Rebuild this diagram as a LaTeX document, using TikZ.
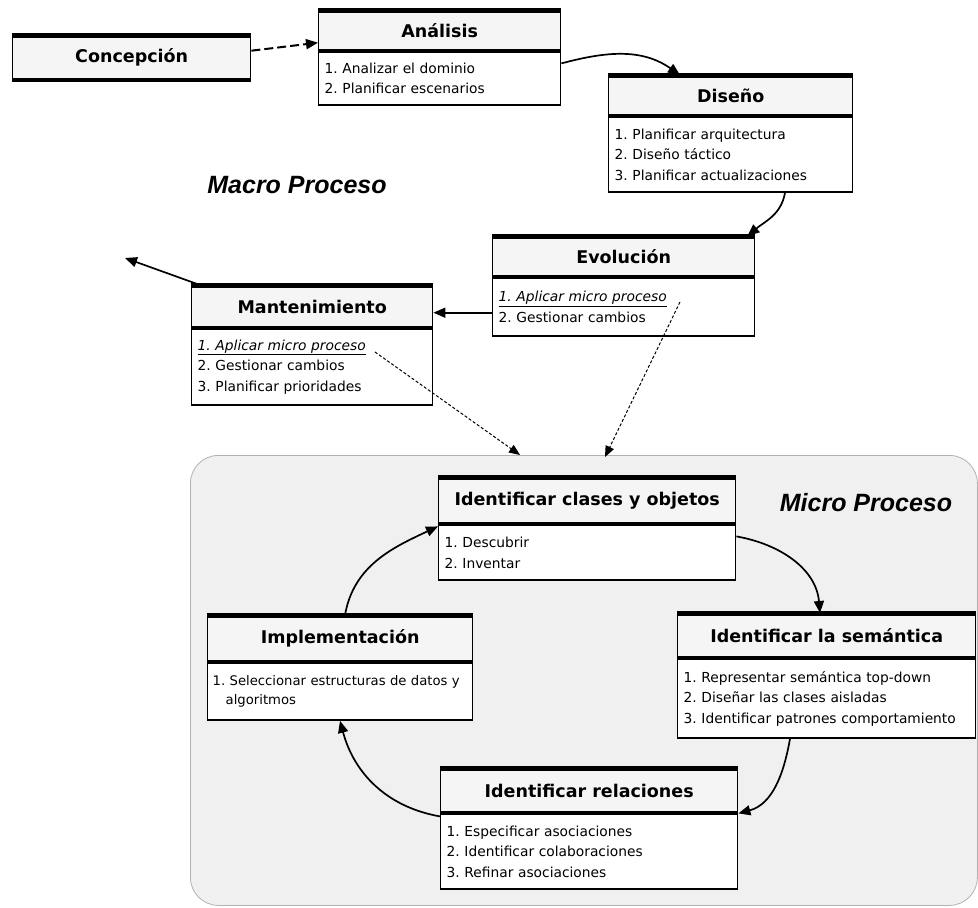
\documentclass[tikz,border=0pt]{standalone}
\usepackage{fontspec}
\setmainfont{Liberation Sans}
\newfontfamily\boxtitlefont{DejaVu Sans}
\newfontfamily\boxbodyfont{DejaVu Sans}
\usetikzlibrary{arrows.meta}
\frenchspacing

\begin{document}
\begin{tikzpicture}[x=1pt,y=1pt,
  ttl/.style={draw, line width=1.4pt, fill=black!4, anchor=north west, inner sep=0pt,
    font=\boxtitlefont\bfseries\fontsize{17.5}{20}\selectfont},
  bdy/.style={draw, line width=1.4pt, fill=white, anchor=north west, inner xsep=6pt,
    inner ysep=0pt, align=left, font=\boxbodyfont\fontsize{13.8}{20.5}\selectfont},
  topbar/.style={line width=5pt},
  midbar/.style={line width=4pt},
  arr/.style={line width=1.7pt, -{Triangle[length=12pt,width=10pt]}},
  dsh/.style={line width=1pt, dash pattern=on 3pt off 2pt, -{Triangle[length=11pt,width=9pt]}},
  lbl/.style={font=\bfseries\itshape\fontsize{25}{28}\selectfont},
  micro/.style={draw=black!30, line width=0.8pt, fill=black!6, rounded corners=28pt,
    anchor=north west, inner sep=0pt}
]
\useasboundingbox (0,0) rectangle (978,-908);
\fill[white] (0,0) rectangle (978,-908);

% micro process frame
\node[micro, minimum width=787pt, minimum height=450pt] (mframe) at (190,-455) {};

% macro process boxes
\node[ttl, minimum width=238pt, minimum height=44pt] (con) at (12,-35) {Concepción};

\node[ttl, minimum width=242pt, minimum height=40pt] (ana) at (318,-10) {Análisis};
\node[bdy, text width=230pt, minimum height=53pt] (ana-b) at (ana.south west)
  {1. Analizar el dominio\\2. Planificar escenarios};

\node[ttl, minimum width=244pt, minimum height=40pt] (dis) at (608,-75) {Diseño};
\node[bdy, text width=232pt, minimum height=75pt] (dis-b) at (dis.south west)
  {1. Planificar arquitectura\\2. Diseño táctico\\3. Planificar actualizaciones};

\node[ttl, minimum width=262pt, minimum height=40pt] (evo) at (492,-236) {Evolución};
\node[bdy, text width=250pt, minimum height=58pt] (evo-b) at (evo.south west)
  {\underline{\itshape 1. Aplicar micro proceso}\\2. Gestionar cambios};

\node[ttl, minimum width=241pt, minimum height=42pt] (man) at (191,-285) {Mantenimiento};
\node[bdy, text width=229pt, minimum height=76pt] (man-b) at (man.south west)
  {\underline{\itshape 1. Aplicar micro proceso}\\2. Gestionar cambios\\3. Planificar prioridades};

% micro process boxes
\node[ttl, minimum width=297pt, minimum height=46pt] (cla) at (438,-477) {Identificar clases y objetos};
\node[bdy, text width=285pt, minimum height=55pt] (cla-b) at (cla.south west)
  {1. Descubrir\\2. Inventar};

\node[ttl, minimum width=298pt, minimum height=44pt] (sem) at (677,-613) {Identificar la semántica};
\node[bdy, text width=286pt, minimum height=79pt] (sem-b) at (sem.south west)
  {1. Representar semántica top-down\\2. Diseñar las clases aisladas\\3. Identificar patrones comportamiento};

\node[ttl, minimum width=265pt, minimum height=46pt] (imp) at (207,-615) {Implementación};
\node[bdy, inner xsep=5pt, text width=255pt, minimum height=57pt,
  font=\boxbodyfont\fontsize{13.2}{19}\selectfont] (imp-b) at (imp.south west)
  {1. Seleccionar estructuras de datos y\\\hspace*{13pt}algoritmos};

\node[ttl, minimum width=297pt, minimum height=44pt] (rel) at (440,-768) {Identificar relaciones};
\node[bdy, text width=285pt, minimum height=75pt] (rel-b) at (rel.south west)
  {1. Especificar asociaciones\\2. Identificar colaboraciones\\3. Refinar asociaciones};

% heavy rules on the title compartments
\foreach \b in {con,ana,dis,evo,man,cla,sem,imp,rel}{
  \draw[topbar] (\b.north west) -- (\b.north east);
  \draw[midbar] (\b.south west) -- (\b.south east);
}

% labels
\node[lbl] (macrolbl) at (297,-185) {Macro Proceso};
\node[lbl] (microlbl) at (866,-503) {Micro Proceso};

% macro process flow
\draw[line width=2pt, dash pattern=on 9pt off 4pt, -{Triangle[length=12pt,width=10pt]}]
  ([yshift=7pt]con.east) -- ([yshift=-12pt]ana.west);
\draw[arr] ([yshift=-12pt]ana.south east) to[out=15, in=145] ([xshift=72pt]dis.north west);
\draw[arr] ([xshift=177pt]dis-b.south west) to[out=-100, in=40] ([xshift=-8pt]evo.north east);
\coordinate (me) at ([yshift=-6pt]man.east);
\draw[arr] (evo-b.west |- me) -- (me);
\coordinate (back) at (125,-258);
\draw[arr] ([xshift=9pt]man.north west) -- (back);

% links into the micro process
\coordinate (mi1) at (375,-352);
\coordinate (mi2) at (680,-302);
\coordinate (mt1) at (520,-455);
\coordinate (mt2) at (605,-457);
\draw[dsh] (mi1) -- (mt1);
\draw[dsh] (mi2) -- (mt2);

% micro process cycle
\draw[arr] ([yshift=-12pt]cla-b.north east) to[out=-10, in=95] ([xshift=143pt]sem.north west);
\draw[arr] ([xshift=113pt]sem-b.south west) to[out=-100, in=15] (rel.south east);
\draw[arr] ([yshift=-3pt]rel-b.north west) to[out=170, in=-75] ([xshift=133pt]imp-b.south west);
\draw[arr] ([xshift=138pt]imp.north west) to[out=80, in=205] ([yshift=-2pt]cla-b.north west);
\end{tikzpicture}
\end{document}
